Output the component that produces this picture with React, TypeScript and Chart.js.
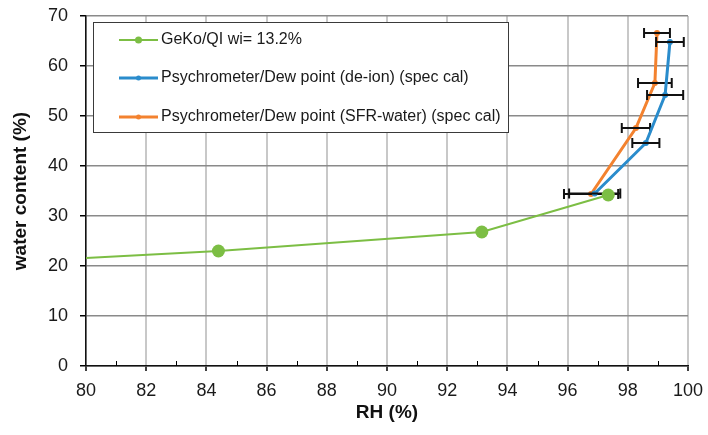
import { useEffect, useRef } from "react";
import { Chart, registerables } from "chart.js";

Chart.register(...registerables);

// GeKo/QI series (RH %, water content %)
const geKoRH = [75.5, 84.4, 93.15, 97.35];
const geKoWater = [20.2, 23.0, 26.8, 34.2];

// Psychrometer / dew point, de-ionised water calibration
const deIonRH = [96.9, 98.6, 99.24, 99.4];
const deIonWater = [34.5, 44.6, 54.2, 64.8];
const deIonErr = [0.85, 0.45, 0.6, 0.46];

// Psychrometer / dew point, SFR-water calibration
const sfrRH = [96.78, 98.27, 98.9, 98.97];
const sfrWater = [34.4, 47.6, 56.6, 66.6];
const sfrErr = [0.9, 0.47, 0.56, 0.43];

const seriesNames = [
  "GeKo/QI wi= 13.2%",
  "Psychrometer/Dew point (de-ion) (spec cal)",
  "Psychrometer/Dew point (SFR-water) (spec cal)",
];
const seriesColors = ["#7cbe44", "#2a8ccc", "#f3822f"];

const xTitle = "RH (%)";
const yTitle = "water content (%)";

const FONT = "'Liberation Sans', Arial, sans-serif";

const toPoints = (xs: number[], ys: number[]) => xs.map((x, i) => ({ x, y: ys[i] }));

const errorBars: Record<number, number[]> = { 1: deIonErr, 2: sfrErr };

const errorBarPlugin = {
  id: "errorBars",
  afterDatasetDraw(chart: any, args: any) {
    const errs = errorBars[args.index];
    if (!errs) return;
    const ds = chart.data.datasets[args.index];
    const xs = chart.scales.x;
    const ys = chart.scales.y;
    const ctx = chart.ctx;
    ctx.save();
    ctx.strokeStyle = "#111";
    ctx.lineWidth = 2;
    ds.data.forEach((p: any, i: number) => {
      const x1 = xs.getPixelForValue(p.x - errs[i]);
      const x2 = xs.getPixelForValue(p.x + errs[i]);
      const y = ys.getPixelForValue(p.y);
      ctx.beginPath();
      ctx.moveTo(x1, y);
      ctx.lineTo(x2, y);
      ctx.moveTo(x1, y - 5);
      ctx.lineTo(x1, y + 5);
      ctx.moveTo(x2, y - 5);
      ctx.lineTo(x2, y + 5);
      ctx.stroke();
    });
    ctx.restore();
  },
};

const decorPlugin = {
  id: "decor",
  afterDraw(chart: any) {
    const ctx = chart.ctx;
    const area = chart.chartArea;
    const xs = chart.scales.x;
    ctx.save();

    // minor ticks on the RH axis
    ctx.strokeStyle = "#000";
    ctx.lineWidth = 1;
    for (let v = xs.min + 1; v < xs.max; v += 2) {
      const px = Math.round(xs.getPixelForValue(v)) + 0.5;
      ctx.beginPath();
      ctx.moveTo(px, area.bottom);
      ctx.lineTo(px, area.bottom - 5);
      ctx.stroke();
    }

    // axis titles
    ctx.fillStyle = "#111";
    ctx.font = `bold 19px ${FONT}`;
    ctx.textAlign = "center";
    ctx.textBaseline = "middle";
    ctx.fillText(xTitle, (area.left + area.right) / 2, 413);
    ctx.save();
    ctx.translate(21, (area.top + area.bottom) / 2);
    ctx.rotate(-Math.PI / 2);
    ctx.fillText(yTitle, 0, 0);
    ctx.restore();

    // legend box
    const bx = 93, by = 22, bw = 415, bh = 110;
    ctx.fillStyle = "#fff";
    ctx.fillRect(bx, by, bw, bh);
    ctx.strokeStyle = "#3a3a3a";
    ctx.lineWidth = 1;
    ctx.strokeRect(bx + 0.5, by + 0.5, bw, bh);

    const rows = [40, 78, 117];
    ctx.font = `16px ${FONT}`;
    ctx.textAlign = "left";
    seriesNames.forEach((name, i) => {
      const y = rows[i];
      ctx.strokeStyle = seriesColors[i];
      ctx.lineWidth = i === 0 ? 2 : 3;
      ctx.beginPath();
      ctx.moveTo(119, y);
      ctx.lineTo(158, y);
      ctx.stroke();
      ctx.fillStyle = seriesColors[i];
      ctx.beginPath();
      ctx.arc(138.5, y, i === 0 ? 3.5 : 2.5, 0, Math.PI * 2);
      ctx.fill();
      ctx.fillStyle = "#1a1a1a";
      ctx.fillText(name, 161, y);
    });

    ctx.restore();
  },
};

export default function App() {
  const canvasRef = useRef<HTMLCanvasElement | null>(null);

  useEffect(() => {
    const canvas = canvasRef.current;
    if (!canvas) return;
    const chart = new Chart(canvas, {
      type: "scatter",
      data: {
        datasets: [
          {
            label: seriesNames[0],
            data: toPoints(geKoRH, geKoWater),
            showLine: true,
            borderColor: seriesColors[0],
            backgroundColor: seriesColors[0],
            borderWidth: 2,
            pointRadius: 6.5,
            pointBorderWidth: 0,
            order: 0,
          },
          {
            label: seriesNames[1],
            data: toPoints(deIonRH, deIonWater),
            showLine: true,
            borderColor: seriesColors[1],
            backgroundColor: seriesColors[1],
            borderWidth: 3,
            pointRadius: 3,
            pointBorderWidth: 0,
            order: 1,
          },
          {
            label: seriesNames[2],
            data: toPoints(sfrRH, sfrWater),
            showLine: true,
            borderColor: seriesColors[2],
            backgroundColor: seriesColors[2],
            borderWidth: 3,
            pointRadius: 3,
            pointBorderWidth: 0,
            order: 2,
          },
        ],
      },
      options: {
        responsive: false,
        animation: false,
        layout: { padding: { top: 16, right: 20, left: 0, bottom: 0 } },
        plugins: { legend: { display: false }, tooltip: { enabled: false } },
        scales: {
          x: {
            type: "linear",
            min: 80,
            max: 100,
            ticks: { stepSize: 2, color: "#1a1a1a", font: { family: FONT, size: 18 }, padding: 9 },
            grid: { color: "#c8c8c8", lineWidth: 2, tickColor: "#000", tickLength: 5, tickWidth: 1.5 },
            border: { color: "#111", width: 1.5 },
            afterFit: (s: any) => {
              s.height = 69;
              s.paddingLeft = 0;
              s.paddingRight = 0;
            },
          },
          y: {
            min: 0,
            max: 70,
            ticks: { stepSize: 10, color: "#1a1a1a", font: { family: FONT, size: 18 }, padding: 12 },
            grid: { color: "#8a8a8a", lineWidth: 1.5, tickColor: "#000", tickLength: 6, tickWidth: 1.5 },
            border: { color: "#111", width: 1.5 },
            afterFit: (s: any) => {
              s.width = 86;
              s.paddingTop = 0;
              s.paddingBottom = 0;
            },
          },
        },
      },
      plugins: [errorBarPlugin, decorPlugin],
    } as any);
    return () => chart.destroy();
  }, []);

  return (
    <div style={{ position: "fixed", left: 0, top: 0, width: 708, height: 435, background: "#fff" }}>
      <canvas ref={canvasRef} width={708} height={435} style={{ display: "block" }} />
    </div>
  );
}
